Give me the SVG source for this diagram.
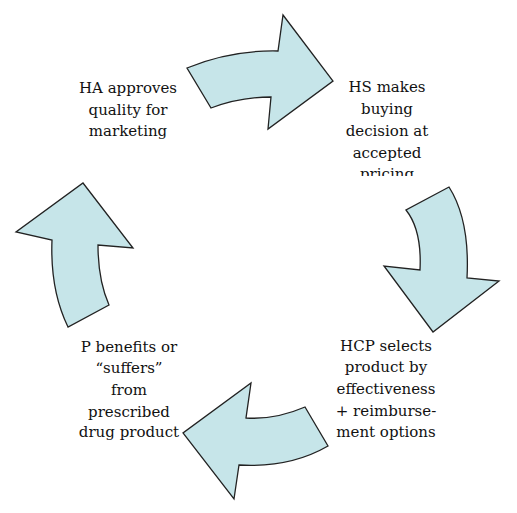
<svg xmlns="http://www.w3.org/2000/svg" width="517" height="513" viewBox="0 0 517 513">
<style>
.arrow{fill:#c6e5e9;stroke:#222;stroke-width:1.3;stroke-linejoin:miter}
.lbl{font-family:'DejaVu Serif',serif;font-size:15px;fill:#111;text-anchor:middle}
</style>
<defs>
<clipPath id="clipHS"><rect x="330" y="60" width="120" height="116"/></clipPath>
</defs>
<rect width="517" height="513" fill="#fff"/>
<g id="connectors">
<path id="arrow-top" class="arrow" d="M187,68 Q230,50 278,51 L283,15 L333,81 L268,129 L271,97 Q240,97 211,108 Z"/>
<path id="arrow-right" class="arrow" d="M449,187 Q470,220 467,278 L499,281 L433,332 L384,266 L420,270 Q422,230 406,210 Z"/>
<path id="arrow-bottom" class="arrow" d="M328,446 Q290,468 239,465 L234,499 L183,433 L251,383 L246,418 Q275,420 305,407 Z"/>
<path id="arrow-left" class="arrow" d="M68,327 Q50,290 52,240 L16,232 L83,183 L133,248 L98,245 Q98,280 109,305 Z"/>
</g>
<g id="node-ha">
<text class="lbl" x="128" y="92.7">HA approves</text>
<text class="lbl" x="128" y="114.5">quality for</text>
<text class="lbl" x="128" y="136">marketing</text>
</g>
<g id="node-hs" clip-path="url(#clipHS)">
<text class="lbl" x="387" y="92.3">HS makes</text>
<text class="lbl" x="387" y="114.3">buying</text>
<text class="lbl" x="387" y="136">decision at</text>
<text class="lbl" x="387" y="157.7">accepted</text>
<text class="lbl" x="387" y="179.3">pricing</text>
</g>
<g id="node-hcp">
<text class="lbl" x="386" y="350.7">HCP selects</text>
<text class="lbl" x="386" y="372.3">product by</text>
<text class="lbl" x="386" y="394">effectiveness</text>
<text class="lbl" x="386" y="415.7">+ reimburse-</text>
<text class="lbl" x="386" y="437">ment options</text>
</g>
<g id="node-p">
<text class="lbl" x="129" y="351.7">P benefits or</text>
<text class="lbl" x="129" y="373.3">“suffers”</text>
<text class="lbl" x="129" y="395">from</text>
<text class="lbl" x="129" y="416.7">prescribed</text>
<text class="lbl" x="129" y="437">drug product</text>
</g>
</svg>
